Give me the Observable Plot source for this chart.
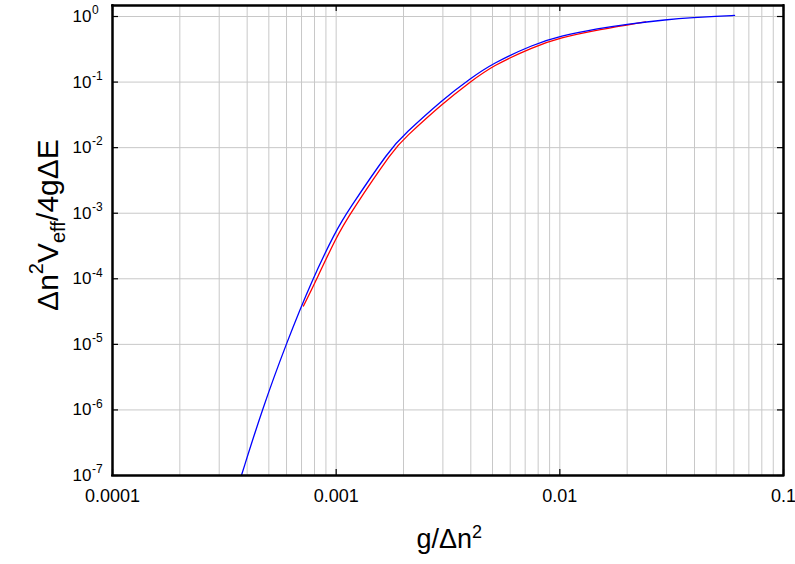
<!DOCTYPE html>
<html><head><meta charset="utf-8">
<script src="https://cdn.jsdelivr.net/npm/d3@7"></script>
<script src="https://cdn.jsdelivr.net/npm/@observablehq/plot@0.6"></script>
<style>body{margin:0;background:#fff}</style>
</head><body><div id="chart"></div>
<script>
// Blue curve
const blueX = [0.000377, 0.000466, 0.000596, 0.000783, 0.001, 0.00111, 0.00176, 0.002, 0.003, 0.004, 0.005, 0.0076, 0.01, 0.015, 0.02, 0.03, 0.04, 0.05, 0.0604];
const blueY = [1e-7, 1e-6, 1e-5, 1e-4, 5.45e-4, 1e-3, 1e-2, 0.0155, 0.0546, 0.1146, 0.192, 0.374, 0.504, 0.658, 0.768, 0.897, 0.965, 1.007, 1.04];
// Red curve
const redX = [0.000714, 0.00082, 0.001, 0.001155, 0.00183, 0.002, 0.003, 0.004, 0.005, 0.0076, 0.01, 0.015, 0.0242];
const redY = [3.84e-5, 1e-4, 4.3e-4, 1e-3, 1e-2, 0.01345, 0.0476, 0.102, 0.177, 0.343, 0.473, 0.63, 0.83];

const xDomain = [1e-4, 0.1];
const yDomain = [1e-7, 1.472];
const xTicks = [1e-4, 1e-3, 1e-2, 1e-1];
const xTickLabels = ["0.0001", "0.001", "0.01", "0.1"];
const yTicks = [1e-7, 1e-6, 1e-5, 1e-4, 1e-3, 1e-2, 1e-1, 1];
const yTickBase = "10";
const yExponents = ["-7", "-6", "-5", "-4", "-3", "-2", "-1", "0"];
const xLabelParts = ["g/Δn", "2"];
const yLabelParts = ["Δn", "2", "V", "eff", "/4gΔE"];

const blue = blueX.map((x, i) => ({x, y: blueY[i]}));
const red = redX.map((x, i) => ({x, y: redY[i]}));

const W = 795, H = 564, ML = 112, MR = 12, MT = 5, MB = 89;
const FW = W - ML - MR, FH = H - MT - MB, TICK = 6;
const tickStyle = {stroke: "black", strokeWidth: 1.2};
const frameStyle = {stroke: "black", strokeWidth: 2, strokeLinecap: "square"};

// text-piece helper (layout offsets only)
const piece = (str, opts) => Plot.text([str], {text: d => d, textAnchor: "start", fill: "black", ...opts});

const plot = Plot.plot({
  width: W, height: H,
  marginLeft: ML, marginRight: MR, marginTop: MT, marginBottom: MB,
  x: {type: "log", domain: xDomain},
  y: {type: "log", domain: yDomain},
  style: {fontFamily: "'Liberation Sans', Arial, sans-serif", background: "white", color: "black"},
  marks: [
    Plot.gridX({stroke: "#c8c8c8", strokeOpacity: 1, strokeWidth: 1}),
    Plot.gridY(yTicks, {stroke: "#c8c8c8", strokeOpacity: 1, strokeWidth: 1}),
    Plot.line(red, {x: "x", y: "y", stroke: "#ff0000", strokeWidth: 1.3, curve: "basis"}),
    Plot.line(blue, {x: "x", y: "y", stroke: "#0000ff", strokeWidth: 1.3, curve: "basis"}),
    // frame as rules
    Plot.ruleX(xDomain, frameStyle),
    Plot.ruleY(yDomain, frameStyle),
    // inward ticks on all four sides
    Plot.ruleX(xTicks, {insetTop: FH - TICK, ...tickStyle}),
    Plot.ruleX(xTicks, {insetBottom: FH - TICK, ...tickStyle}),
    Plot.ruleY(yTicks, {insetRight: FW - TICK, ...tickStyle}),
    Plot.ruleY(yTicks, {insetLeft: FW - TICK, ...tickStyle}),
    Plot.axisX(xTicks, {anchor: "bottom", tickSize: 0, tickPadding: 14, fontSize: 18, label: null,
      tickFormat: d => xTickLabels[xTicks.indexOf(d)]}),
    Plot.axisY(yTicks, {anchor: "left", tickSize: 0, tickPadding: 40, textAnchor: "start", fontSize: 17, label: null,
      tickFormat: () => yTickBase}),
    // superscript exponents of the y tick labels
    Plot.text(yTicks, {y: d => d, frameAnchor: "left", text: (d, i) => yExponents[i],
      dx: -20.6, dy: -6, textAnchor: "start", fontSize: 12, fill: "black"}),
    // x axis title
    piece(xLabelParts[0], {frameAnchor: "bottom", dx: -31.5, dy: 72.4, fontSize: 27}),
    piece(xLabelParts[1], {frameAnchor: "bottom", dx: 24.1, dy: 62.2, fontSize: 18}),
    // y axis title (rotated)
    piece(yLabelParts[0], {frameAnchor: "left", rotate: -90, dx: -64.6, dy: 70.4, fontSize: 30}),
    piece(yLabelParts[1], {frameAnchor: "left", rotate: -90, dx: -76.4, dy: 33.7, fontSize: 20}),
    piece(yLabelParts[2], {frameAnchor: "left", rotate: -90, dx: -64.6, dy: 22.6, fontSize: 30}),
    piece(yLabelParts[3], {frameAnchor: "left", rotate: -90, dx: -53.9, dy: 2.6, fontSize: 20}),
    piece(yLabelParts[4], {frameAnchor: "left", rotate: -90, dx: -64.6, dy: -19.6, fontSize: 30}),
    Plot.frame({stroke: "#000000", strokeWidth: 2, fill: "none"})
  ]
});

document.getElementById("chart").appendChild(plot);
</script>
</body></html>
